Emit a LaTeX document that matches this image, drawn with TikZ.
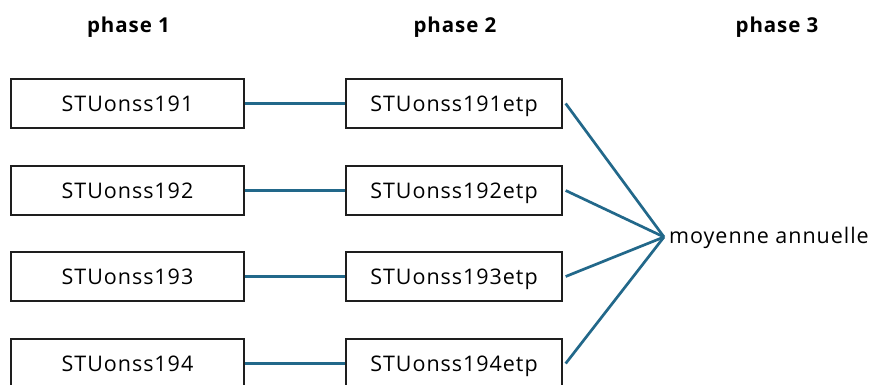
\documentclass[tikz,border=0pt]{standalone}
\usepackage{fontspec}
\setmainfont{Open Sans}[LetterSpace=4.5]
\definecolor{linkblue}{RGB}{34,104,138}
\definecolor{boxline}{RGB}{30,30,30}
\tikzset{
  x=1pt,y=-1pt,
  box/.style={draw=boxline, line width=1.3pt, minimum height=49pt, inner sep=0pt,
    text height=15.5pt, text depth=0pt, font=\fontsize{21.5}{24}\selectfont},
  boxa/.style={box, minimum width=233pt},
  boxb/.style={box, minimum width=216pt},
  head/.style={font=\fontsize{20.5}{24}\selectfont\bfseries},
  link/.style={draw=linkblue, line width=2.7pt},
  lbl/.style={font=\fontsize{21.5}{24}\selectfont, anchor=west, inner sep=0pt}
}
\begin{document}
\begin{tikzpicture}
\useasboundingbox (0,0) rectangle (873,385);
\node[head] (h1) at (128.5,27) {phase 1};
\node[head] (h2) at (455,27) {phase 2};
\node[head] (h3) at (777,27) {phase 3};
\node[boxa] (a1) at (127.5,103.5) {STUonss191};
\node[boxa] (a2) at (127.5,190.5) {STUonss192};
\node[boxa] (a3) at (127.5,276.5) {STUonss193};
\node[boxa] (a4) at (127.5,363.5) {STUonss194};
\node[boxb] (b1) at (454,103.5) {STUonss191etp};
\node[boxb] (b2) at (454,190.5) {STUonss192etp};
\node[boxb] (b3) at (454,276.5) {STUonss193etp};
\node[boxb] (b4) at (454,363.5) {STUonss194etp};
\coordinate (m) at (664,237);
\node[lbl] (moy) at (669,238) {moyenne annuelle};
\foreach \i in {1,2,3,4} {
  \draw[link] (a\i.east) -- (b\i.west);
  \draw[link] ([xshift=3pt]b\i.east) -- (m);
}
\end{tikzpicture}
\end{document}
